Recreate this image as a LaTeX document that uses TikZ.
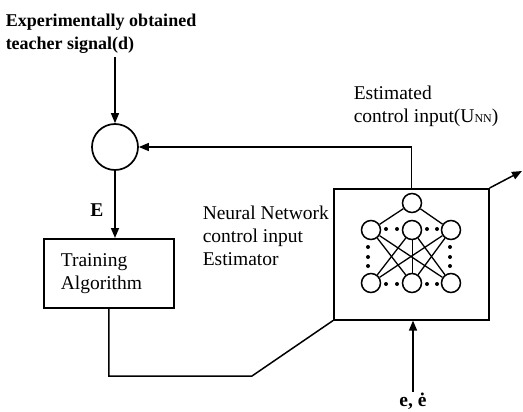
\documentclass[tikz,border=0pt]{standalone}
\usepackage{fontspec}
\setmainfont{Liberation Serif}
\usetikzlibrary{arrows.meta,calc}
\begin{document}
\begin{tikzpicture}[x=1pt,y=-1pt,
  line width=1.5pt,
  txt/.style={inner sep=0pt, font=\fontsize{19.5}{23}\selectfont, align=left},
  arr/.style={-{Triangle[length=10pt,width=8pt]}},
  blk/.style={draw, line width=1.6pt, inner sep=0pt},
  nn/.style={circle, draw, line width=1.5pt, minimum size=19pt, inner sep=0pt},
  nnline/.style={line width=1.3pt},
  dot/.style={circle, fill, inner sep=0pt, minimum size=4pt}]
\useasboundingbox (0,0) rectangle (523,412);

% labels
\node[txt, anchor=north west, font=\fontsize{18}{23}\selectfont\bfseries] (dlab) at (5,13) {Experimentally obtained\\teacher signal(d)};
\node[txt, anchor=north west] (ulab) at (353,85) {Estimated\\control input(U{\fontsize{12}{12}\selectfont NN})};
\node[txt, anchor=north west] (nnlab) at (202,205) {Neural Network\\control input\\Estimator};
\node[txt, font=\fontsize{19.5}{23}\selectfont\bfseries] (elab) at (97,210) {E};
\node[txt, font=\fontsize{19.5}{23}\selectfont\bfseries] (eed) at (413,401) {e, ė};

% blocks
\node[circle, draw, minimum size=46pt, inner sep=0pt, line width=1.7pt] (sum) at (115,147) {};
\node[blk, anchor=north west, minimum width=130pt, minimum height=69pt,
      text width=96pt, inner xsep=17pt, align=left,
      font=\fontsize{19.5}{23}\selectfont] (train) at (43,238) {Training\\Algorithm};
\node[blk, anchor=north west, minimum width=155pt, minimum height=131pt] (nnbox) at (333,188) {};

% neural network drawing
\node[nn] (t)  at (412,203) {};
\node[nn] (ml) at (371,230) {};
\node[nn] (mc) at (412,230) {};
\node[nn] (mr) at (451,230) {};
\node[nn] (bl) at (371,283) {};
\node[nn] (bc) at (412,283) {};
\node[nn] (br) at (451,283) {};
\draw[nnline] (t) -- (ml);
\draw[nnline] (t) -- (mr);
\draw[nnline] (ml) -- (bc);
\draw[nnline] (ml) -- (br);
\draw[nnline] (mc) -- (bl);
\draw[nnline] (mc) -- (br);
\draw[line width=0.8pt] (mc) -- (bc);
\draw[nnline] (mr) -- (bl);
\draw[nnline] (mr) -- (bc);
\foreach \px/\py [count=\i] in {386/229,397/229,427/229,437/229,
    386/284,397/284,427/284,437/284,
    368/247,368/257,368/266,450/247,450/257,450/266}
  \node[dot] (dot\i) at (\px,\py) {};

% coordinates
\coordinate (dtop) at (115,57);
\coordinate (bend) at (252,376);
\coordinate (out) at (522,171);

% connectors
\draw[arr] (dtop) -- (sum.north);
\draw[arr] (sum.south) -- (sum.south |- train.north);
\draw[arr] (nnbox.north) |- (sum.east);
\draw (train.south) |- (bend) -- (nnbox.south west);
\draw[arr] (eed.north) -- (eed.north |- nnbox.south);
\draw[arr] (nnbox.north east) -- (out);
\end{tikzpicture}
\end{document}
